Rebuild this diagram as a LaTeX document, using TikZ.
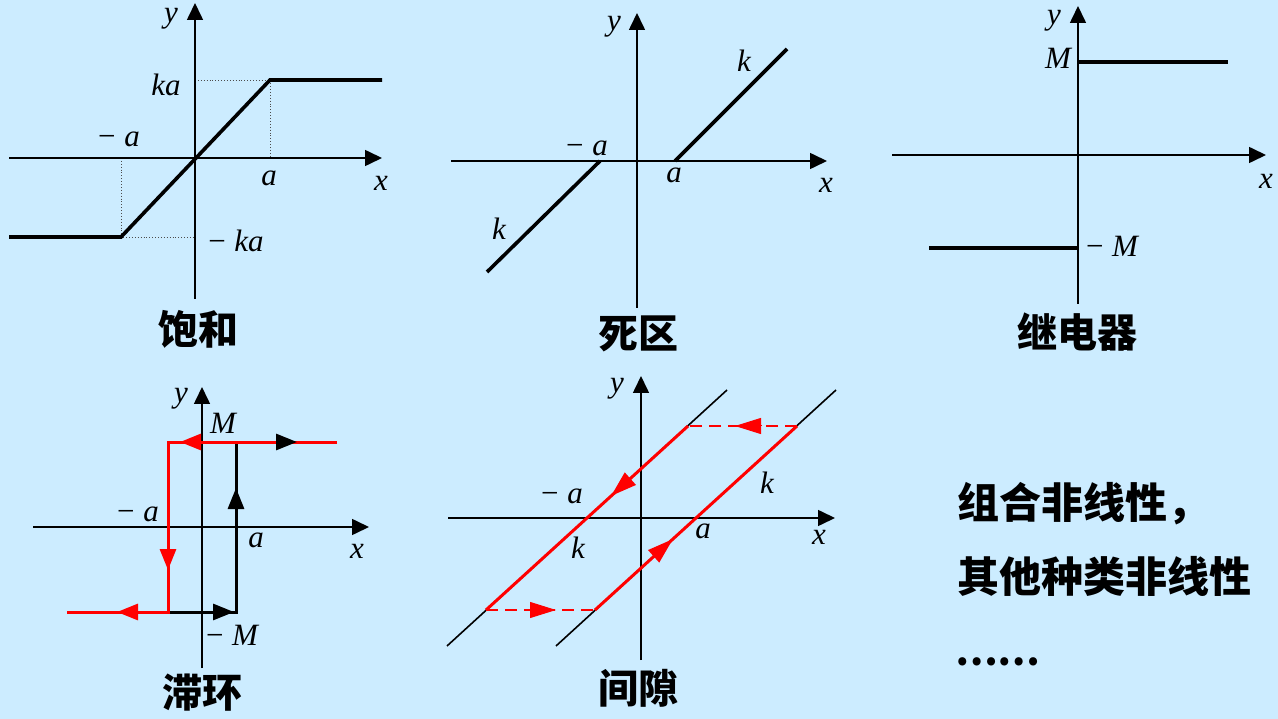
\documentclass[tikz,border=0pt]{standalone}
\usepackage{fontspec}
\setmainfont{Liberation Serif}
\newfontfamily\cjk{Noto Sans CJK SC}
\usetikzlibrary{arrows.meta}
\definecolor{bgblue}{RGB}{204,236,255}
\definecolor{lred}{RGB}{255,0,0}
\tikzset{
  axis/.style={line width=1.6pt, -{Triangle[length=17pt,width=16pt]}},
  curve/.style={line width=3.6pt},
  thin/.style={line width=1.6pt},
  dotline/.style={line width=0.9pt, dotted, black!70},
  rcurve/.style={lred, line width=3pt},
  bcurve/.style={black, line width=3pt},
  rdash/.style={lred, line width=2pt, dash pattern=on 12pt off 7pt},
  tipS/.style={-{Triangle[length=21pt,width=16pt]}},
  tipL/.style={-{Triangle[length=26pt,width=16pt]}},
  lbl/.style={font=\fontsize{31}{34}\selectfont, inner sep=0pt},
  ttl/.style={font=\cjk\bfseries\fontsize{40}{44}\selectfont, inner sep=0pt},
  side/.style={font=\cjk\bfseries\fontsize{42}{46}\selectfont, inner sep=0pt, anchor=west}
}
\newcommand{\mneg}{\textup{−}\;}
\begin{document}
\begin{tikzpicture}[x=1pt,y=-1pt]
\fill[bgblue] (0,0) rectangle (1278,719);
\useasboundingbox (0,0) rectangle (1278,719);

% ---------- Panel 1: saturation ----------
\draw[dotline] (195,80) -- (270,80) -- (270,158);
\draw[dotline] (121,158) -- (121,237) -- (195,237);
\draw[axis] (9,158) -- (382,158);
\draw[axis] (195,299) -- (195,3);
\draw[curve, line join=miter] (9,237) -- (121,237) -- (270,80) -- (382,80);
\node[lbl] (s-y) at (171,19) {\itshape y};
\node[lbl] (s-ka) at (166,85) {\itshape ka};
\node[lbl] (s-na) at (119,139) {\mneg\itshape a};
\node[lbl] (s-a) at (269,178) {\itshape a};
\node[lbl] (s-x) at (381,183) {\itshape x};
\node[lbl] (s-nka) at (236,241) {\mneg\itshape ka};
\node[ttl] (s-t) at (198,329) {饱和};

% ---------- Panel 2: dead zone ----------
\draw[axis] (451,161) -- (827,161);
\draw[axis] (637,308) -- (637,13);
\draw[curve] (675,161) -- (787,49);
\draw[curve] (600,161) -- (487,272);
\node[lbl] (d-y) at (614,27) {\itshape y};
\node[lbl] (d-k1) at (744,61) {\itshape k};
\node[lbl] (d-na) at (587,148) {\mneg\itshape a};
\node[lbl] (d-a) at (674,175) {\itshape a};
\node[lbl] (d-x) at (826,185) {\itshape x};
\node[lbl] (d-k2) at (499,229) {\itshape k};
\node[ttl] (d-t) at (638,334) {死区};

% ---------- Panel 3: relay ----------
\draw[axis] (892,155) -- (1266,155);
\draw[axis] (1078,304) -- (1078,6);
\draw[curve] (1078,62) -- (1228,62);
\draw[curve] (929,248) -- (1078,248);
\node[lbl] (r-y) at (1054,21) {\itshape y};
\node[lbl] (r-M) at (1058,58) {\itshape M};
\node[lbl] (r-x) at (1266,181) {\itshape x};
\node[lbl] (r-nM) at (1112,246) {\mneg\itshape M};
\node[ttl] (r-t) at (1077,332) {继电器};

% ---------- Panel 4: hysteresis ----------
\draw[axis] (33,527) -- (369,527);
\draw[axis] (202,668) -- (202,387);
\draw[bcurve, line join=miter] (168,612) -- (236,612) -- (236,442);
\draw[rcurve, line join=miter] (337,442) -- (168,442) -- (168,612) -- (67,612);
\draw[rcurve, tipS] (201,442) -- (180,442);
\draw[bcurve, tipS] (276,442) -- (297,442);
\draw[rcurve, tipS] (168,549) -- (168,570);
\draw[rcurve, tipS] (138,612) -- (117,612);
\draw[bcurve, tipS] (213,612) -- (234,612);
\draw[bcurve, tipS] (236,509) -- (236,488);
\node[lbl] (h-y) at (181,399) {\itshape y};
\node[lbl] (h-M) at (223,423) {\itshape M};
\node[lbl] (h-na) at (138,514) {\mneg\itshape a};
\node[lbl] (h-a) at (256,540) {\itshape a};
\node[lbl] (h-x) at (357,551) {\itshape x};
\node[lbl] (h-nM) at (232,635) {\mneg\itshape M};
\node[ttl] (h-t) at (202,693) {滞环};

% ---------- Panel 5: backlash ----------
\draw[axis] (448,518) -- (835,518);
\draw[axis] (641,660) -- (641,376);
\draw[thin] (447,646) -- (727,390);
\draw[thin] (556,646) -- (836,390);
\draw[rdash] (797,426) -- (688,426);
\draw[rdash] (486,610) -- (595,610);
\draw[rcurve] (688,426) -- (486,610);
\draw[rcurve] (595,610) -- (797,426);
\draw[rcurve, tipL] (630,479) -- (611,496);
\draw[rcurve, tipL] (654,556) -- (673,539);
\draw[rcurve, line width=1pt, tipL] (762,426) -- (735,426);
\draw[rcurve, line width=1pt, tipL] (530,610) -- (556,610);
\node[lbl] (b-y) at (617,389) {\itshape y};
\node[lbl] (b-k1) at (767,483) {\itshape k};
\node[lbl] (b-na) at (562,496) {\mneg\itshape a};
\node[lbl] (b-k2) at (578,548) {\itshape k};
\node[lbl] (b-a) at (703,531) {\itshape a};
\node[lbl] (b-x) at (819,537) {\itshape x};
\node[ttl] (b-t) at (638,688) {间隙};

% ---------- Side text ----------
\node[side] (t1) at (957,504) {组合非线性，};
\node[side] (t2) at (957,576) {其他种类非线性};
\node[side, font=\cjk\bfseries\fontsize{38}{42}\selectfont] (t3) at (955,662) {……};
\end{tikzpicture}
\end{document}
